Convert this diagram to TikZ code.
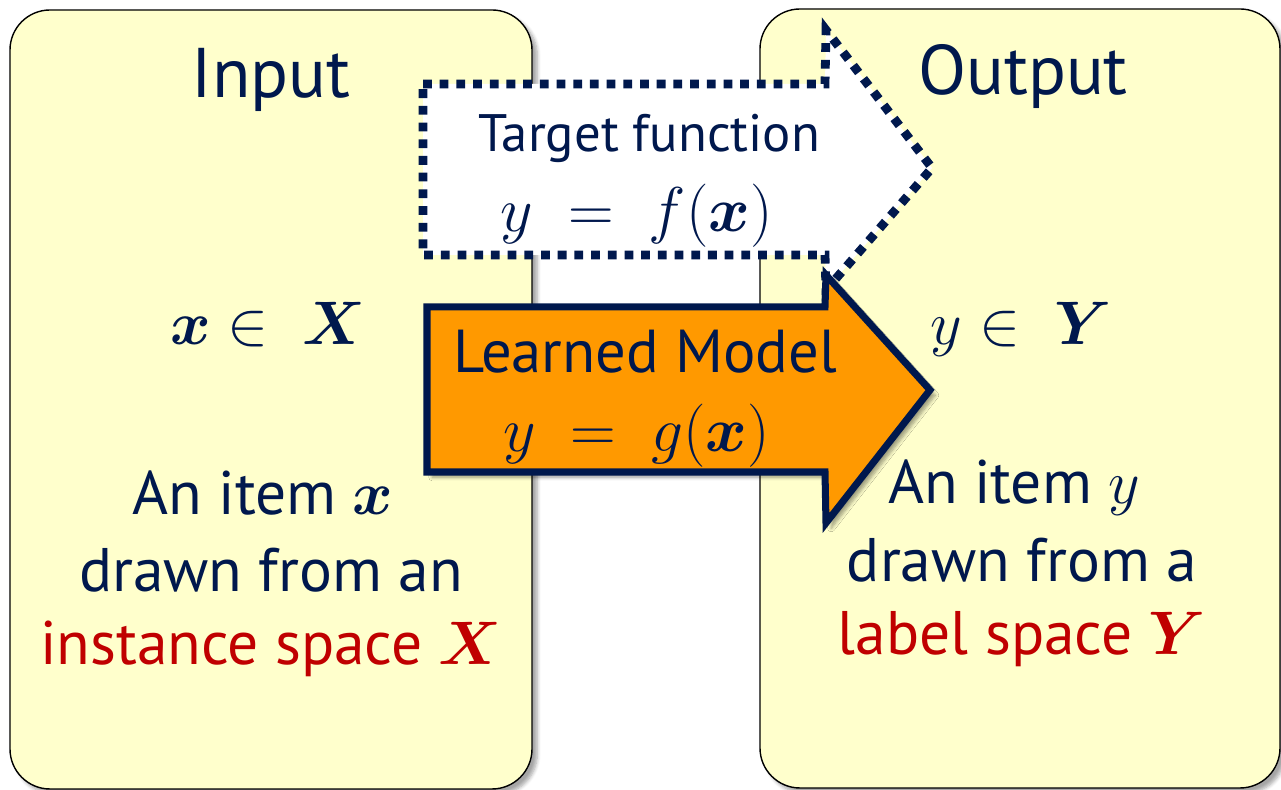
\RequirePackage{fix-cm}
\documentclass[tikz,border=0pt]{standalone}
\usepackage{amsmath}
\usepackage{fontspec}
\setmainfont{PT Sans}
\usetikzlibrary{shadows.blur}
\definecolor{cnavy}{HTML}{00184D}
\definecolor{cyellow}{HTML}{FFFFCC}
\definecolor{corange}{HTML}{FF9900}
\definecolor{cred}{HTML}{C00000}
\tikzset{
  every picture/.style={line join=miter},
  panel/.style={draw=black, line width=0.8pt, fill=cyellow, rounded corners=0.8cm,
    blur shadow={shadow xshift=3pt, shadow yshift=-3pt, shadow blur steps=6, shadow opacity=35}},
  target/.style={draw=cnavy, fill=white, line width=5pt, dash pattern=on 5pt off 4.5pt},
  model/.style={draw=cnavy, fill=corange, line width=4pt,
    blur shadow={shadow xshift=3pt, shadow yshift=-3pt, shadow blur steps=6, shadow opacity=40}},
  txt/.style={text=cnavy, anchor=base, inner sep=0pt, font=\fontsize{35}{42}\selectfont},
  title/.style={txt, font=\fontsize{40}{48}\selectfont},
  eqn/.style={txt, font=\fontsize{36}{42}\selectfont},
}

\begin{document}
\begin{tikzpicture}
  \useasboundingbox (0,0) rectangle (25.62,15.8);
  % input and output spaces
  \node[panel, minimum width=10.44cm, minimum height=15.58cm] (inbox) at (5.42,7.81) {};
  \node[panel, minimum width=10.4cm, minimum height=15.58cm] (outbox) at (20.4,7.83) {};
  \node[title] (intitle) at (5.42,13.84) {Input};
  \node[title] (outtitle) at (20.46,13.9) {Output};
  \node[txt] (xin) at (5.36,8.9) {$\boldsymbol{x}\in\;\boldsymbol{X}$};
  \node[txt] (yin) at (20.42,8.9) {$y\in\;\boldsymbol{Y}$};
  \foreach \n/\x/\y/\t in {1/5.26/5.5/{An item $\boldsymbol{x}$}, 2/5.42/3.96/{drawn from an},
      3/5.42/2.5/{\textcolor{cred}{instance space $\boldsymbol{X}$}}}
    { \node[txt] (ix\n) at (\x,\y) {\t}; }
  \foreach \n/\x/\y/\t in {1/20.28/5.72/{An item $y$}, 2/20.44/4.16/{drawn from a},
      3/20.44/2.7/{\textcolor{cred}{label space $\boldsymbol{Y}$}}}
    { \node[txt] (oy\n) at (\x,\y) {\t}; }
  % target function (dotted arrow)
  \draw[target] (8.46,14.12) -- (16.5,14.12) -- (16.52,15.2) -- (18.64,12.44)
    -- (16.52,10.0) -- (16.5,10.7) -- (8.46,10.7) -- cycle;
  \node[txt, font=\fontsize{30}{36}\selectfont] (tf) at (12.98,12.76) {Target function};
  \node[eqn] (tfeq) at (12.73,11.16) {$y\;=\;f(\boldsymbol{x})$};
  % learned model (orange arrow)
  \draw[model] (8.54,9.66) -- (16.5,9.66) -- (16.52,10.3) -- (18.6,8.0)
    -- (16.52,5.34) -- (16.5,6.36) -- (8.54,6.36) -- cycle;
  \node[txt, font=\fontsize{34.5}{40}\selectfont] (lm) at (12.9,8.34) {Learned Model};
  \node[eqn] (lmeq) at (12.73,6.76) {$y\;=\;g(\boldsymbol{x})$};
\end{tikzpicture}
\end{document}
